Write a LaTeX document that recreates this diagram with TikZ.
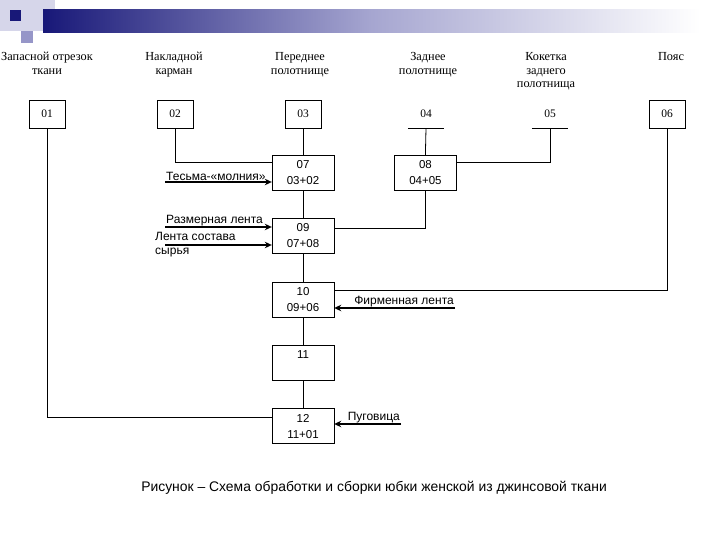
\documentclass[tikz,border=0pt]{standalone}
\usepackage{fontspec}
\setmainfont{Liberation Serif}
\setsansfont{Liberation Sans}
\usetikzlibrary{positioning,arrows.meta}
\definecolor{BarBlue}{RGB}{24,24,120}
\definecolor{BarMid}{RGB}{150,150,200}
\definecolor{BarPale}{RGB}{214,214,234}
\tikzset{
  topbox/.style={draw,minimum width=36pt,minimum height=28pt,inner sep=0pt,
                 font=\fontsize{11.5}{13}\selectfont},
  toptag/.style={topbox,draw=none},
  toplabel/.style={anchor=north,align=center,inner sep=0pt,
                   font=\fontsize{12.3}{13.8}\selectfont},
  opbox/.style={draw,minimum width=62pt,minimum height=35pt,inner sep=0pt,
                align=center,font=\sffamily\fontsize{11.5}{16}\selectfont},
  inlabel/.style={inner sep=1pt,font=\sffamily\fontsize{12}{14}\selectfont},
  link/.style={line width=0.8pt},
  inarr/.style={-{Stealth[length=7pt,width=6.5pt]},line width=1.6pt},
}

\begin{document}
\begin{tikzpicture}[x=1pt,y=-1pt,node distance=28pt]
  \useasboundingbox (0,0) rectangle (720,540);

  % Slide decoration
  \fill[BarPale] (0,0) rectangle (43,31);
  \fill[BarPale] (43,0) rectangle (55,10);
  \fill[BarMid] (21,31) rectangle (33,43);
  \fill[BarBlue] (10,10) rectangle (21,21);
  \shade[left color=BarBlue,right color=white,middle color=BarMid!85] (43,10) rectangle (700,33);

  % Parts
  \node[topbox] (n01) at (47,114) {01};
  \node[topbox] (n02) at (175,114) {02};
  \node[topbox] (n03) at (303,114) {03};
  \node[toptag] (n04) at (426,114) {04};
  \node[toptag] (n05) at (550,114) {05};
  \node[topbox] (n06) at (667,114) {06};

  \node[toplabel] (l01) at (47,52) {Запасной отрезок\\ткани};
  \node[toplabel] (l02) at (174,52) {Накладной\\карман};
  \node[toplabel] (l03) at (300,52) {Переднее\\полотнище};
  \node[toplabel] (l04) at (428,52) {Заднее\\полотнище};
  \node[toplabel] (l05) at (546,52) {Кокетка\\заднего\\полотнища};
  \node[toplabel] (l06) at (671,52) {Пояс};

  % Operations
  \node[opbox] (n07) at (303,172.5) {07\\03+02};
  \node[opbox,right=60pt of n07] (n08) {08\\04+05};
  \node[opbox,below=of n07] (n09) {09\\07+08};
  \node[opbox,below=of n09] (n10) {10\\09+06};
  \node[opbox,below=of n10] (n11) {11\\\mbox{}};
  \node[opbox,below=of n11] (n12) {12\\11+01};

  % Links
  \draw[link] (n04.south west) -- (n04.south east);
  \draw[link] (n05.south west) -- (n05.south east);
  \draw[link] (n01.south) |- ([yshift=-9pt]n12.north west);
  \draw[link] (n02.south) |- ([yshift=-8pt]n07.north west);
  \draw[link] (n03) -- (n07);
  \draw[link] (n04.south) -- (n08.north);
  \draw[link] (n05.south) |- ([yshift=-8pt]n08.north east);
  \draw[link] (n06.south) |- ([yshift=-9pt]n10.north east);
  \draw[link] (n08.south) |- ([yshift=-10pt]n09.north east);
  \draw[link] (n07) -- (n09);
  \draw[link] (n09) -- (n10);
  \draw[link] (n10) -- (n11);
  \draw[link] (n11) -- (n12);

  % Added materials
  \coordinate (tesma) at (165,182);
  \coordinate (razmer) at (165,227);
  \coordinate (sostav) at (165,245);
  \coordinate (firma) at (455,308);
  \coordinate (pugov) at (401,424);

  \draw[inarr] (tesma) -- (tesma -| n07.west);
  \draw[inarr] (razmer) -- (razmer -| n09.west);
  \draw[inarr] (sostav) -- (sostav -| n09.west);
  \draw[inarr] (firma) -- (firma -| n10.east);
  \draw[inarr] (pugov) -- (pugov -| n12.east);

  \node[inlabel,anchor=south west] (ltesma) at (tesma) {Тесьма-«молния»};
  \node[inlabel,anchor=south west] (lrazmer) at (razmer) {Размерная лента};
  \node[inlabel,anchor=west,align=left,inner sep=0pt] (lsostav) at (155,245) {Лента состава\\сырья};
  \node[inlabel,anchor=south east] (lfirma) at (firma) {Фирменная лента};
  \node[inlabel,anchor=south east] (lpugov) at (pugov) {Пуговица};

  \node[font=\sffamily\fontsize{13.9}{16}\selectfont] (caption) at (374,488)
    {Рисунок – Схема обработки и сборки юбки женской из джинсовой ткани};
\end{tikzpicture}
\end{document}
